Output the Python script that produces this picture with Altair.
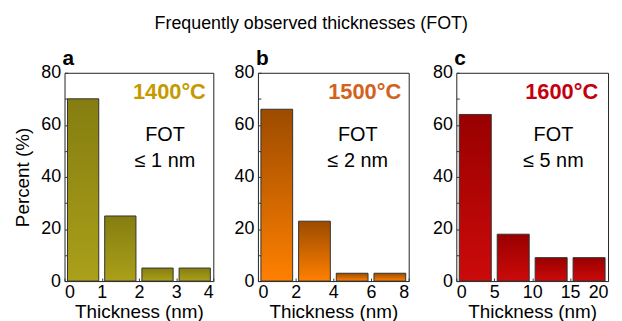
import altair as alt
import pandas as pd

# ---- data ----
panels = ["a", "b", "c"]
temps = ["1400°C", "1500°C", "1600°C"]
fot_labels = ["≤ 1 nm", "≤ 2 nm", "≤ 5 nm"]
bin_width = [1, 2, 5]
x_max = [4, 8, 20]
x_ticks = [[0, 1, 2, 3, 4], [0, 2, 4, 6, 8], [0, 5, 10, 15, 20]]
percent = [[70, 25, 5, 5], [66, 23, 3, 3], [64, 18, 9, 9]]
y_ticks = [0, 10, 20, 30, 40, 50, 60, 70, 80]

# annotation anchors (data units)
temp_x = [3.8, 7.6, 18.7]
temp_y = [72.5, 72.5, 72.5]
fot_x = [2.7, 5.3, 12.8]
fot_y = [56, 56, 56]
le_y = [46, 46, 46]

# colours
temp_colors = ["#c49a00", "#d2621c", "#c4000f"]
bar_top = ["#857d10", "#9c4b00", "#990000"]
bar_bottom = ["#aaa01a", "#ff8000", "#cc0a0a"]

panel_w = [150, 152, 153]

FONT = "Liberation Sans"

charts = []
for i in range(3):
    w = bin_width[i]
    df = pd.DataFrame({
        "start": [k * w for k in range(len(percent[i]))],
        "end": [(k + 1) * w for k in range(len(percent[i]))],
        "pct": percent[i],
    })
    xscale = alt.Scale(domain=[0, x_max[i]], nice=False, zero=True)
    yscale = alt.Scale(domain=[0, 80], nice=False)
    xaxis = alt.Axis(values=x_ticks[i], title="Thickness (nm)",
                     format="d", labelOverlap=False)
    yaxis = alt.Axis(values=y_ticks, labelOverlap=False,
                     labelExpr="datum.value % 20 == 0 ? datum.label : ''",
                     title="Percent (%)" if i == 0 else None)
    grad = alt.Gradient(
        gradient="linear",
        stops=[alt.GradientStop(color=bar_top[i], offset=0),
               alt.GradientStop(color=bar_bottom[i], offset=1)],
        x1=0, x2=0, y1=0, y2=1,
    )
    bars = alt.Chart(df).mark_bar(color=grad, stroke="#333333", strokeWidth=1,
                                  xOffset=3, x2Offset=-3).encode(
        x=alt.X("start:Q", scale=xscale, axis=xaxis),
        x2="end:Q",
        y=alt.Y("pct:Q", scale=yscale, axis=yaxis),
        y2=alt.datum(0),
    )
    tdf = pd.DataFrame({"x": [temp_x[i]], "y": [temp_y[i]], "t": [temps[i]]})
    temp_txt = alt.Chart(tdf).mark_text(
        align="right", baseline="middle", fontSize=22, fontWeight="bold",
        font=FONT, color=temp_colors[i]
    ).encode(x=alt.X("x:Q", scale=xscale, axis=xaxis),
             y=alt.Y("y:Q", scale=yscale, axis=yaxis), text="t:N")
    fdf = pd.DataFrame({"x": [fot_x[i], fot_x[i]], "y": [fot_y[i], le_y[i]],
                        "t": ["FOT", fot_labels[i]]})
    fot_txt = alt.Chart(fdf).mark_text(
        align="center", baseline="middle", fontSize=20, font=FONT, color="black"
    ).encode(x=alt.X("x:Q", scale=xscale, axis=xaxis),
             y=alt.Y("y:Q", scale=yscale, axis=yaxis), text="t:N")
    layer = alt.layer(bars, temp_txt, fot_txt).properties(
        width=panel_w[i], height=210,
        title=alt.TitleParams(text=panels[i], anchor="start", frame="group",
                              fontSize=21, fontWeight="bold", font=FONT,
                              color="black", offset=-5, dx=-2),
    )
    charts.append(layer)

left_pair = alt.hconcat(charts[0], charts[1], spacing=19)
chart = alt.hconcat(left_pair, charts[2], spacing=22).properties(
    title=alt.TitleParams(text="Frequently observed thicknesses (FOT)",
                          fontSize=18, fontWeight="normal", font=FONT,
                          color="black", anchor="middle", offset=15),
).configure_view(
    stroke="#222222", strokeWidth=1
).configure_axis(
    labelFont=FONT, titleFont=FONT, labelFontSize=18, titleFontSize=19,
    labelColor="black", titleColor="black", titleFontWeight="normal",
    domain=False, grid=False, ticks=True, tickSize=3, tickColor="#333333",
    offset=-3, labelOverlap=False,
).configure_axisY(
    labelPadding=4, titlePadding=8,
).configure_axisX(
    labelPadding=3, titlePadding=1,
)

chart.save("out.html", embed_options={"renderer": "svg", "actions": False})
